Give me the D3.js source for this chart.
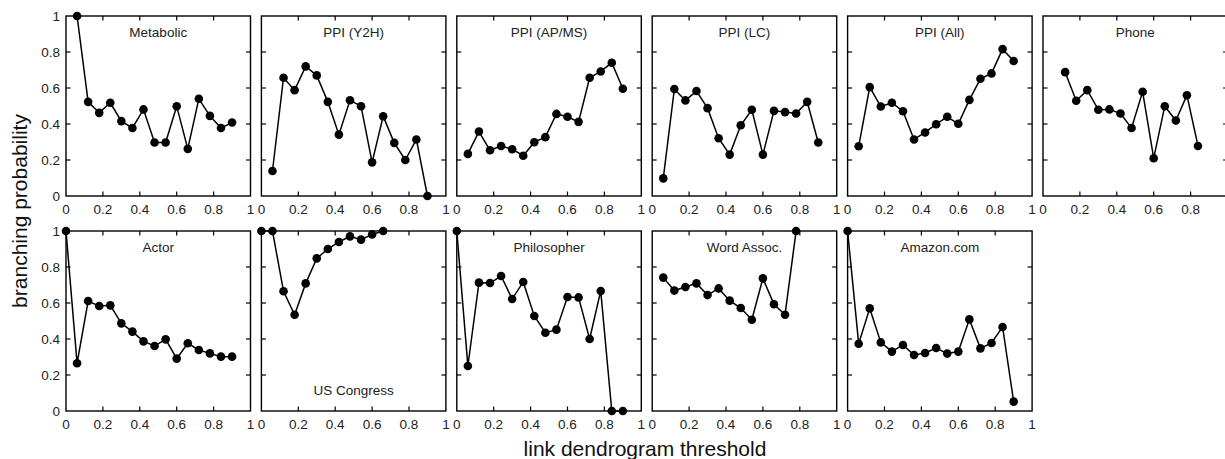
<!DOCTYPE html>
<html>
<head>
<meta charset="utf-8">
<script src="https://cdn.jsdelivr.net/npm/d3@7"></script>
<style>
  body { margin: 0; background: #fff; }
  svg { display: block; font-family: "Liberation Sans", Arial, sans-serif; }
  .frame { fill: none; stroke: #000; stroke-width: 1.4; }
  .tick-in { stroke: #000; stroke-width: 1.2; }
  .tick-label { font-size: 13.5px; fill: #222; }
  .title { font-size: 13.5px; fill: #222; }
</style>
</head>
<body>
<div id="chart"></div>
<script>
// threshold steps (x) are multiples of 0.06
const step = 0.06;

const panelNames = ['Metabolic', 'PPI (Y2H)', 'PPI (AP/MS)', 'PPI (LC)', 'PPI (All)', 'Phone',
                    'Actor', 'US Congress', 'Philosopher', 'Word Assoc.', 'Amazon.com'];

// index of the first x step for each panel
const startStep = [1, 1, 1, 1, 1, 2, 0, 0, 0, 1, 0];

const metabolic = [1.0, 0.523, 0.462, 0.518, 0.416, 0.378, 0.481, 0.297, 0.297, 0.499, 0.262, 0.540, 0.445, 0.378, 0.408];
const ppiY2H = [0.139, 0.657, 0.588, 0.720, 0.670, 0.523, 0.341, 0.532, 0.499, 0.187, 0.443, 0.295, 0.200, 0.314, 0.0];
const ppiAPMS = [0.234, 0.358, 0.254, 0.278, 0.260, 0.224, 0.299, 0.327, 0.456, 0.440, 0.412, 0.657, 0.692, 0.740, 0.596];
const ppiLC = [0.098, 0.594, 0.531, 0.583, 0.488, 0.321, 0.230, 0.393, 0.479, 0.230, 0.473, 0.466, 0.458, 0.523, 0.297];
const ppiAll = [0.276, 0.605, 0.497, 0.518, 0.471, 0.314, 0.353, 0.399, 0.440, 0.401, 0.534, 0.651, 0.681, 0.816, 0.750];
const phone = [0.688, 0.529, 0.588, 0.479, 0.481, 0.458, 0.378, 0.579, 0.210, 0.499, 0.419, 0.560, 0.278];
const actor = [1.0, 0.265, 0.611, 0.583, 0.587, 0.487, 0.441, 0.387, 0.361, 0.398, 0.291, 0.376, 0.339, 0.320, 0.302, 0.302];
const usCongress = [1.0, 1.0, 0.665, 0.535, 0.709, 0.848, 0.900, 0.939, 0.970, 0.952, 0.981, 1.0];
const philosopher = [1.0, 0.250, 0.713, 0.711, 0.750, 0.622, 0.717, 0.528, 0.435, 0.452, 0.633, 0.631, 0.400, 0.667, 0.0, 0.0];
const wordAssoc = [0.741, 0.669, 0.689, 0.709, 0.644, 0.681, 0.613, 0.572, 0.507, 0.737, 0.593, 0.535, 1.0];
const amazon = [1.0, 0.374, 0.570, 0.381, 0.330, 0.367, 0.311, 0.322, 0.350, 0.319, 0.330, 0.509, 0.348, 0.378, 0.467, 0.052];

const seriesValues = [metabolic, ppiY2H, ppiAPMS, ppiLC, ppiAll, phone,
                      actor, usCongress, philosopher, wordAssoc, amazon];

const xTicks = [0, 0.2, 0.4, 0.6, 0.8, 1];
const yTicks = [0, 0.2, 0.4, 0.6, 0.8, 1];

const width = 1225;
const height = 459;

// panel geometry
const left0 = 66;
const colStep = 195.4;
const panelW = 184.5;
const rowTops = [16, 231];
const panelH = 180;
const perRow = 6;

const svg = d3.select('#chart')
    .append('svg')
        .attr('width', width)
        .attr('height', height)
        .attr('viewBox', [0, 0, width, height]);

const fmt = d => d === 0 || d === 1 ? String(d) : d.toFixed(1);

seriesValues.forEach((vals, i) => {
    const row = i < perRow ? 0 : 1;
    const col = i < perRow ? i : i - perRow;
    const x0 = left0 + col * colStep;
    const y0 = rowTops[row];

    const x = d3.scaleLinear().domain([0, 1]).range([x0, x0 + panelW]);
    const y = d3.scaleLinear().domain([0, 1]).range([y0 + panelH, y0]);

    const g = svg.append('g').attr('class', 'panel');

    // frame
    g.append('rect')
        .attr('class', 'frame')
        .attr('x', x(0))
        .attr('y', y(1))
        .attr('width', x(1) - x(0))
        .attr('height', y(0) - y(1));

    // inward ticks on all four sides
    const inner = [0.2, 0.4, 0.6, 0.8];
    const tl = 4.5;
    inner.forEach(t => {
        g.append('line').attr('class', 'tick-in')
            .attr('x1', x(t)).attr('x2', x(t)).attr('y1', y(0)).attr('y2', y(0) - tl);
        g.append('line').attr('class', 'tick-in')
            .attr('x1', x(t)).attr('x2', x(t)).attr('y1', y(1)).attr('y2', y(1) + tl);
        g.append('line').attr('class', 'tick-in')
            .attr('x1', x(0)).attr('x2', x(0) + tl).attr('y1', y(t)).attr('y2', y(t));
        g.append('line').attr('class', 'tick-in')
            .attr('x1', x(1)).attr('x2', x(1) - tl).attr('y1', y(t)).attr('y2', y(t));
    });

    // x tick labels (the last one of the top row falls off the page)
    g.selectAll('.xl')
        .data(xTicks.filter(d => x(d) < width - 4))
        .join('text')
            .attr('class', 'tick-label')
            .attr('text-anchor', 'middle')
            .attr('x', d => x(d))
            .attr('y', y(0) + 18)
            .text(fmt);

    // y tick labels only in first column
    if (col === 0) {
        g.selectAll('.yl')
            .data(yTicks)
            .join('text')
                .attr('class', 'tick-label')
                .attr('text-anchor', 'end')
                .attr('x', x(0) - 6)
                .attr('y', d => y(d) + 5)
                .text(fmt);
    }

    // title (US Congress sits at the bottom)
    const bottomTitle = panelNames[i] === 'US Congress';
    g.append('text')
        .attr('class', 'title')
        .attr('text-anchor', 'middle')
        .attr('x', (x(0) + x(1)) / 2)
        .attr('y', bottomTitle ? y(0) - 16.5 : y(1) + 21)
        .text(panelNames[i]);

    const pts = vals.map((v, k) => ({ t: (startStep[i] + k) * step, v: v }));

    g.append('path')
        .datum(pts)
        .attr('fill', 'none')
        .attr('stroke', '#000')
        .attr('stroke-width', 1.5)
        .attr('d', d3.line().x(d => x(d.t)).y(d => y(d.v)));

    g.selectAll('circle')
        .data(pts)
        .join('circle')
            .attr('cx', d => x(d.t))
            .attr('cy', d => y(d.v))
            .attr('r', 4.3)
            .attr('fill', '#000');
});

// axis labels
svg.append('text')
    .attr('text-anchor', 'middle')
    .attr('x', 645)
    .attr('y', 456)
    .style('font-size', '21px')
    .attr('fill', '#111')
    .text('link dendrogram threshold');

svg.append('text')
    .attr('text-anchor', 'middle')
    .attr('transform', 'translate(27, 211) rotate(-90)')
    .style('font-size', '21px')
    .attr('fill', '#111')
    .text('branching probability');
</script>
</body>
</html>
